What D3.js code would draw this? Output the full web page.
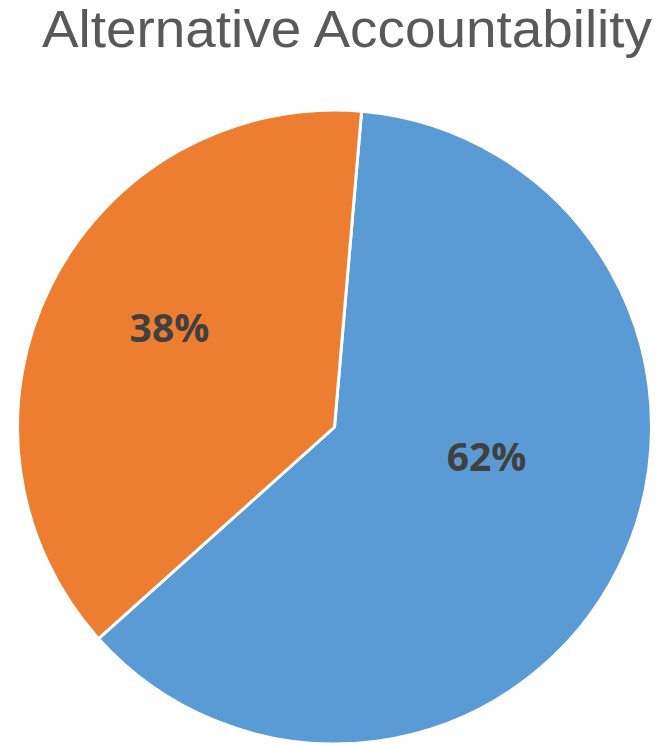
<!DOCTYPE html>
<html>
<head>
<meta charset="utf-8">
<script src="https://cdn.jsdelivr.net/npm/d3@7"></script>
<style>
  html, body { margin: 0; padding: 0; background: #fff; }
  svg { display: block; }
</style>
</head>
<body>
<svg id="chart" width="667" height="746"></svg>
<script>
// Share of responses, in percent
const categories = ["Yes", "No"];
const values = [62, 38];
const labels = ["62%", "38%"];
const colors = ["#5B9BD5", "#ED7D31"];
const title = "Alternative Accountability";

const width = 667, height = 746;
const cx = 334.5, cy = 427, radius = 317;
const startAngle = 4.9 * Math.PI / 180;

const svg = d3.select("#chart");

svg.append("text")
  .attr("x", 42)
  .attr("y", 47)
  .attr("textLength", 610)
  .attr("lengthAdjust", "spacingAndGlyphs")
  .attr("font-family", "'Liberation Sans', sans-serif")
  .attr("font-size", 51)
  .attr("fill", "#595959")
  .text(title);

const pie = d3.pie()
  .sort(null)
  .value(d => d)
  .startAngle(startAngle)
  .endAngle(startAngle + 2 * Math.PI);

const arc = d3.arc().innerRadius(0).outerRadius(radius);
const labelArc = d3.arc().innerRadius(radius * 0.55).outerRadius(radius * 0.55);
// label nudges relative to the arc centroid
const labelShift = [[-4, -49], [-9, -23]];

const g = svg.append("g").attr("transform", `translate(${cx},${cy})`);
const arcs = pie(values);

g.selectAll("path")
  .data(arcs)
  .join("path")
  .attr("d", arc)
  .attr("fill", (d, i) => colors[i])
  .attr("stroke", "#fff")
  .attr("stroke-width", 3)
  .attr("stroke-linejoin", "miter");

g.selectAll("text.lbl")
  .data(arcs)
  .join("text")
  .attr("class", "lbl")
  .attr("transform", (d, i) => {
    const [x, y] = labelArc.centroid(d);
    return `translate(${x + labelShift[i][0]},${y + labelShift[i][1]})`;
  })
  .attr("text-anchor", "middle")
  .attr("dominant-baseline", "central")
  .attr("font-family", "'Open Sans', sans-serif")
  .attr("font-weight", "bold")
  .attr("font-size", 39)
  .attr("fill", "#404040")
  .text((d, i) => labels[i]);
</script>
</body>
</html>
